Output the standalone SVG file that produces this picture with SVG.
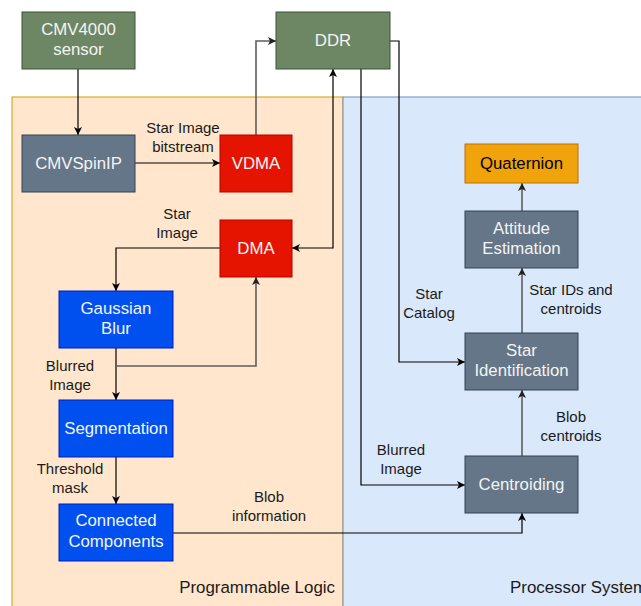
<svg xmlns="http://www.w3.org/2000/svg" width="641" height="606" viewBox="0 0 641 606">
<defs>
<marker id="ah" markerWidth="10" markerHeight="10" refX="8" refY="5" orient="auto" markerUnits="userSpaceOnUse">
<path d="M0,1 L8,5 L0,9 L2,5 Z" fill="#000"/>
</marker>
<marker id="ahg" markerWidth="10" markerHeight="10" refX="8" refY="5" orient="auto" markerUnits="userSpaceOnUse">
<path d="M0,1 L8,5 L0,9 L2,5 Z" fill="#222"/>
</marker>
<marker id="ahs" markerWidth="10" markerHeight="10" refX="0" refY="5" orient="auto" markerUnits="userSpaceOnUse">
<path d="M8,1 L0,5 L8,9 L6,5 Z" fill="#000"/>
</marker>
</defs>
<style>
text{font-family:"Liberation Sans",Arial,sans-serif;}
.bl{font-size:16.8px;fill:#f4f4f4;text-anchor:middle;}
.el{font-size:15px;fill:#1a1a1a;text-anchor:middle;}
.cl{font-size:16.9px;fill:#1a1a1a;}
.green{fill:#6d8764;stroke:#3a5431;stroke-width:1;}
.slate{fill:#647687;stroke:#314354;stroke-width:1;}
.red{fill:#e51400;stroke:#b20000;stroke-width:1;}
.blue{fill:#0050ef;stroke:#001dbc;stroke-width:1;}
.orange{fill:#f0a30a;stroke:#bd7000;stroke-width:1;}
.ln{fill:none;stroke:#000;stroke-width:1.2;}
.lg{fill:none;stroke:#5e5e5e;stroke-width:1.6;}
</style>
<g id="containers">
<g id="pl">
<rect x="12" y="97" width="331" height="520" fill="#ffe6cc" stroke="#d79b00" stroke-width="1"/>
<text class="cl" x="335" y="593" text-anchor="end">Programmable Logic</text>
</g>
<g id="ps">
<rect x="343" y="97" width="310" height="520" fill="#dae8fc" stroke="#6c8ebf" stroke-width="1"/>
<text class="cl" x="510" y="593">Processor System</text>
</g>
</g>
<g id="connectors">
<path class="ln" d="M78,69 V135" marker-end="url(#ah)"/>
<path class="ln" d="M135,163 H220" marker-end="url(#ah)"/>
<path class="lg" d="M256,135 V41 H276" marker-end="url(#ahg)"/>
<path class="ln" d="M292,248 H333 V69" marker-start="url(#ahs)" marker-end="url(#ah)"/>
<path class="ln" d="M390,41 H399 V362 H465" marker-end="url(#ah)"/>
<path class="ln" d="M361,69 V485 H465" marker-end="url(#ah)"/>
<path class="ln" d="M220,248 H116 V291" marker-end="url(#ah)"/>
<path class="ln" d="M116,348 V400" marker-end="url(#ah)"/>
<path class="lg" d="M116,366 H256 V277" marker-end="url(#ahg)"/>
<path class="ln" d="M116,457 V504" marker-end="url(#ah)"/>
<path class="ln" d="M173,533 H522 V513" marker-end="url(#ah)"/>
<path class="lg" d="M522,456 V390" marker-end="url(#ahg)"/>
<path class="lg" d="M522,333 V268" marker-end="url(#ahg)"/>
<path class="lg" d="M522,211 V183" marker-end="url(#ahg)"/>
<text class="el" x="183" y="133">Star Image</text>
<text class="el" x="183" y="152">bitstream</text>
<text class="el" x="177" y="219">Star</text>
<text class="el" x="177" y="238">Image</text>
<text class="el" x="70" y="371">Blurred</text>
<text class="el" x="70" y="390">Image</text>
<text class="el" x="70" y="474">Threshold</text>
<text class="el" x="70" y="493">mask</text>
<text class="el" x="269" y="502">Blob</text>
<text class="el" x="269" y="521">information</text>
<text class="el" x="429" y="299">Star</text>
<text class="el" x="429" y="318">Catalog</text>
<text class="el" x="401" y="455">Blurred</text>
<text class="el" x="401" y="474">Image</text>
<text class="el" x="571" y="422">Blob</text>
<text class="el" x="571" y="441">centroids</text>
<text class="el" x="571" y="295">Star IDs and</text>
<text class="el" x="571" y="314">centroids</text>
</g>
<g id="cmv4000">
<rect class="green" x="22" y="12" width="113" height="57"/>
<text class="bl" x="78.5" y="35">CMV4000</text>
<text class="bl" x="78.5" y="55">sensor</text>
</g>
<g id="ddr">
<rect class="green" x="276" y="12" width="114" height="57"/>
<text class="bl" x="333" y="46">DDR</text>
</g>
<g id="cmvspinip">
<rect class="slate" x="22" y="135" width="113" height="57"/>
<text class="bl" x="78.5" y="169">CMVSpinIP</text>
</g>
<g id="vdma">
<rect class="red" x="220" y="135" width="72" height="57"/>
<text class="bl" x="256" y="169">VDMA</text>
</g>
<g id="dma">
<rect class="red" x="220" y="220" width="72" height="57"/>
<text class="bl" x="256" y="254">DMA</text>
</g>
<g id="gaussian">
<rect class="blue" x="59" y="291" width="114" height="57"/>
<text class="bl" x="116" y="314">Gaussian</text>
<text class="bl" x="116" y="334">Blur</text>
</g>
<g id="segmentation">
<rect class="blue" x="59" y="400" width="114" height="57"/>
<text class="bl" x="116" y="434">Segmentation</text>
</g>
<g id="connected">
<rect class="blue" x="59" y="504" width="114" height="57"/>
<text class="bl" x="116" y="526">Connected</text>
<text class="bl" x="116" y="547">Components</text>
</g>
<g id="quaternion">
<rect class="orange" x="465" y="144" width="113" height="39"/>
<text class="bl" x="521.5" y="169" style="fill:#000">Quaternion</text>
</g>
<g id="attitude">
<rect class="slate" x="465" y="211" width="113" height="57"/>
<text class="bl" x="521.5" y="234">Attitude</text>
<text class="bl" x="521.5" y="254">Estimation</text>
</g>
<g id="starid">
<rect class="slate" x="465" y="333" width="113" height="57"/>
<text class="bl" x="521.5" y="356">Star</text>
<text class="bl" x="521.5" y="376">Identification</text>
</g>
<g id="centroiding">
<rect class="slate" x="465" y="456" width="113" height="57"/>
<text class="bl" x="521.5" y="490">Centroiding</text>
</g>
</svg>
